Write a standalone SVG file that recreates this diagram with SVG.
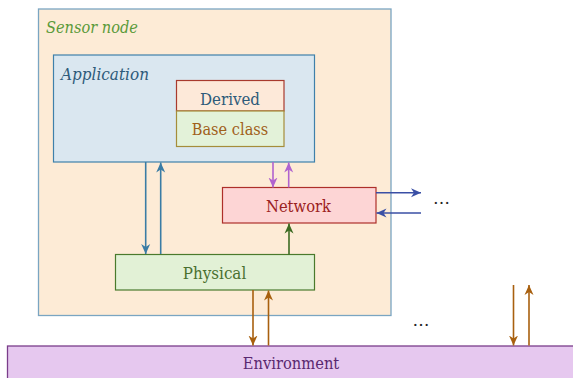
<svg xmlns="http://www.w3.org/2000/svg" width="573" height="378" viewBox="0 0 573 378">
<style>
.t{font-size:16.8px;font-family:"DejaVu Serif",serif}
.it{font-style:italic}
.c{text-anchor:middle}
.ln{fill:none;stroke-width:1.6}
</style>
<defs>
<marker id="ab" markerWidth="14" markerHeight="12" refX="10" refY="6" orient="auto" markerUnits="userSpaceOnUse"><path d="M10,6 L0,1.5 L3,6 L0,10.5 Z" fill="#3a7ca5"/></marker>
<marker id="ap" markerWidth="14" markerHeight="12" refX="10" refY="6" orient="auto" markerUnits="userSpaceOnUse"><path d="M10,6 L0,1.5 L3,6 L0,10.5 Z" fill="#b063cf"/></marker>
<marker id="ag" markerWidth="14" markerHeight="12" refX="10" refY="6" orient="auto" markerUnits="userSpaceOnUse"><path d="M10,6 L0,1.5 L3,6 L0,10.5 Z" fill="#3c6b22"/></marker>
<marker id="an" markerWidth="14" markerHeight="12" refX="10" refY="6" orient="auto" markerUnits="userSpaceOnUse"><path d="M10,6 L0,1.5 L3,6 L0,10.5 Z" fill="#3a4fa5"/></marker>
<marker id="ar" markerWidth="14" markerHeight="12" refX="10" refY="6" orient="auto" markerUnits="userSpaceOnUse"><path d="M10,6 L0,1.5 L3,6 L0,10.5 Z" fill="#a8600f"/></marker>
</defs>
<g id="sensor-node">
<rect x="38.5" y="9" width="352.5" height="306.5" fill="#fdebd6" stroke="#7aa5c2" stroke-width="1.3"/>
<text x="46" y="33" class="t it" fill="#5a9a3a" textLength="92" lengthAdjust="spacingAndGlyphs">Sensor node</text>
</g>
<g id="application">
<rect x="53.5" y="55" width="261" height="107" fill="#dae7f0" stroke="#3f80aa" stroke-width="1.2"/>
<text x="61" y="80" class="t it" fill="#2e5b7a" textLength="88" lengthAdjust="spacingAndGlyphs">Application</text>
</g>
<g id="derived">
<rect x="176.5" y="80.5" width="107.5" height="30.5" fill="#fde9d9" stroke="#a83a2e" stroke-width="1.2"/>
<text x="230" y="105" class="t c" fill="#2e5b7a" textLength="60" lengthAdjust="spacingAndGlyphs">Derived</text>
</g>
<g id="base-class">
<rect x="176.5" y="111" width="107.5" height="35.5" fill="#e3f2d9" stroke="#a58d3a" stroke-width="1.2"/>
<text x="230" y="135" class="t c" fill="#a0601a" textLength="76.5" lengthAdjust="spacingAndGlyphs">Base class</text>
</g>
<g id="network">
<rect x="222.5" y="187.5" width="153.5" height="35.5" fill="#fdd5d5" stroke="#ad2f2a" stroke-width="1.2"/>
<text x="298.5" y="212" class="t c" fill="#9b2222" textLength="65" lengthAdjust="spacingAndGlyphs">Network</text>
</g>
<g id="physical">
<rect x="115.5" y="254.5" width="199" height="35.5" fill="#e2f1d6" stroke="#4a7a2c" stroke-width="1.2"/>
<text x="214.5" y="279" class="t c" fill="#4a7030" textLength="63.5" lengthAdjust="spacingAndGlyphs">Physical</text>
</g>
<g id="environment">
<rect x="7.5" y="346" width="570" height="40" fill="#e6c8ef" stroke="#7a3d8a" stroke-width="1.3"/>
<text x="291" y="369" class="t c" fill="#5a2870" textLength="96.5" lengthAdjust="spacingAndGlyphs">Environment</text>
</g>
<g id="connectors">
<line x1="145.7" y1="162" x2="145.7" y2="254" class="ln" stroke="#3a7ca5" marker-end="url(#ab)"/>
<line x1="160.7" y1="254" x2="160.7" y2="162.5" class="ln" stroke="#3a7ca5" marker-end="url(#ab)"/>
<line x1="273" y1="162" x2="273" y2="187.5" class="ln" stroke="#b063cf" marker-end="url(#ap)"/>
<line x1="288.7" y1="187.5" x2="288.7" y2="162.5" class="ln" stroke="#b063cf" marker-end="url(#ap)"/>
<line x1="289" y1="254.5" x2="289" y2="223.5" class="ln" stroke="#3c6b22" marker-end="url(#ag)"/>
<line x1="376" y1="192.7" x2="421" y2="192.7" class="ln" stroke="#3a4fa5" marker-end="url(#an)"/>
<line x1="421" y1="213" x2="376.5" y2="213" class="ln" stroke="#3a4fa5" marker-end="url(#an)"/>
<line x1="253" y1="290" x2="253" y2="345.5" class="ln" stroke="#a8600f" marker-end="url(#ar)"/>
<line x1="268.5" y1="345.5" x2="268.5" y2="290.5" class="ln" stroke="#a8600f" marker-end="url(#ar)"/>
<line x1="513.5" y1="285" x2="513.5" y2="345.5" class="ln" stroke="#a8600f" marker-end="url(#ar)"/>
<line x1="529" y1="345.5" x2="529" y2="285" class="ln" stroke="#a8600f" marker-end="url(#ar)"/>
</g>
<text x="441.5" y="204" class="t c" fill="#222" textLength="17" lengthAdjust="spacingAndGlyphs">…</text>
<text x="421" y="326" class="t c" fill="#222" textLength="17" lengthAdjust="spacingAndGlyphs">…</text>
</svg>
